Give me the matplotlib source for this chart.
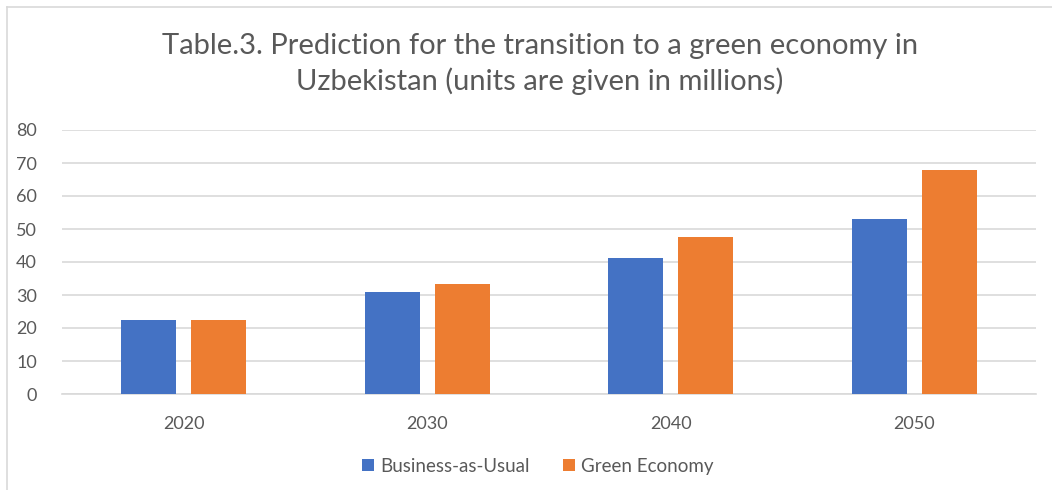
import matplotlib
matplotlib.use("Agg")
import matplotlib.pyplot as plt
import numpy as np

years = ["2020", "2030", "2040", "2050"]
business_as_usual = [22.4, 30.8, 41.2, 53.1]
green_economy = [22.4, 33.4, 47.5, 67.8]
y_ticks = [0, 10, 20, 30, 40, 50, 60, 70, 80]

blue = "#4472C4"
orange = "#ED7D31"
text_gray = "#595959"

plt.rcParams["font.family"] = ["Lato", "DejaVu Sans"]

fig = plt.figure(figsize=(10.52, 4.9), dpi=100)
ax = fig.add_axes([62 / 1052, 1 - 394 / 490, (1036 - 62) / 1052, (394 - 130) / 490])

x = np.arange(len(years))
width = 0.2245
offset = 0.144
ax.bar(x - offset, business_as_usual, width, color=blue, label="Business-as-Usual", zorder=3)
ax.bar(x + offset, green_economy, width, color=orange, label="Green Economy", zorder=3)

ax.set_xlim(-0.5, len(years) - 0.5)
ax.set_ylim(0, 80)
ax.set_yticks(y_ticks)
ax.set_xticks(x)
ax.set_xticklabels(years)
ax.tick_params(axis="both", length=0, labelsize=13, labelcolor=text_gray)
ax.tick_params(axis="y", pad=18)
ax.tick_params(axis="x", pad=16)
ax.yaxis.grid(True, color="#D9D9D9", linewidth=1.2, zorder=0)
for side in ["top", "right", "left"]:
    ax.spines[side].set_visible(False)
ax.spines["bottom"].set_color("#D9D9D9")
ax.spines["bottom"].set_linewidth(1.2)

fig.text(540 / 1052, 1 - 64 / 490,
         "Table.3. Prediction for the transition to a green economy in\nUzbekistan (units are given in millions)",
         ha="center", va="center", fontsize=21, color=text_gray, linespacing=1.35)

fig.legend(loc="center", bbox_to_anchor=(538 / 1052, 1 - 466 / 490), ncol=2, frameon=False,
           fontsize=13.5, labelcolor=text_gray, handlelength=0.6, handleheight=0.6,
           handletextpad=0.35, columnspacing=1.8)

# light chart border
fig.add_artist(plt.Line2D([7 / 1052, 7 / 1052], [0, 1 - 7 / 490], color="#D9D9D9", lw=1.2))
fig.add_artist(plt.Line2D([7 / 1052, 1], [1 - 7 / 490, 1 - 7 / 490], color="#D9D9D9", lw=1.2))

fig.savefig("out.png", dpi=100)
